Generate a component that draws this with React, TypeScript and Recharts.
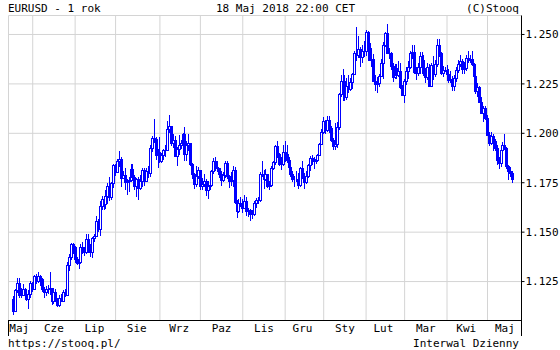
import React from "react";
import { ComposedChart, Bar, XAxis, YAxis, CartesianGrid } from "recharts";

const BLUE = "#0000ff";
const FONT = "'DejaVu Sans Mono', monospace";

// EURUSD daily candles 18.05.2017 - 18.05.2018, in pips (1/10000)
// [open, high, low, close]
const ohlc: number[][] = [
	// Maj 2017
	[11160, 11176, 11080, 11102], [11100, 11213, 11096, 11207], [11207, 11268, 11192, 11242],
	[11242, 11268, 11165, 11182], [11182, 11215, 11166, 11184], [11184, 11238, 11176, 11211],
	[11211, 11217, 11161, 11182], [11182, 11190, 11152, 11163], [11163, 11205, 11110, 11185],
	[11185, 11251, 11168, 11243],
	// Cze
	[11243, 11250, 11196, 11214], [11214, 11285, 11208, 11280], [11280, 11287, 11240, 11255],
	[11255, 11296, 11245, 11277], [11277, 11283, 11230, 11262], [11262, 11270, 11195, 11212],
	[11212, 11225, 11167, 11196], [11196, 11229, 11176, 11211], [11211, 11233, 11185, 11213],
	[11213, 11296, 11180, 11216], [11216, 11219, 11132, 11150], [11150, 11206, 11137, 11197],
	[11197, 11210, 11146, 11151], [11151, 11165, 11119, 11133], [11133, 11180, 11120, 11165],
	[11165, 11185, 11147, 11151], [11151, 11208, 11145, 11195], [11195, 11212, 11172, 11183],
	[11183, 11349, 11177, 11336], [11336, 11390, 11304, 11375], [11375, 11445, 11360, 11441],
	[11441, 11446, 11391, 11426],
	// Lip
	[11426, 11432, 11342, 11362], [11362, 11372, 11336, 11346], [11346, 11373, 11313, 11350],
	[11350, 11441, 11346, 11423], [11423, 11449, 11390, 11400], [11400, 11423, 11380, 11400],
	[11400, 11490, 11390, 11464], [11464, 11489, 11394, 11413], [11413, 11440, 11374, 11400],
	[11400, 11477, 11370, 11470], [11470, 11490, 11450, 11478], [11478, 11583, 11473, 11557],
	[11557, 11566, 11503, 11517], [11517, 11658, 11480, 11633], [11633, 11683, 11614, 11666],
	[11666, 11670, 11612, 11641], [11641, 11712, 11618, 11684], [11684, 11747, 11644, 11735],
	[11735, 11777, 11658, 11678], [11678, 11756, 11663, 11750], [11750, 11846, 11725, 11842],
	// Sie
	[11842, 11846, 11784, 11803], [11803, 11868, 11800, 11859], [11859, 11910, 11829, 11868],
	[11868, 11882, 11729, 11774], [11774, 11808, 11769, 11791], [11791, 11826, 11713, 11753],
	[11753, 11771, 11688, 11757], [11757, 11779, 11703, 11763], [11763, 11847, 11755, 11821],
	[11821, 11843, 11775, 11781], [11781, 11790, 11715, 11733], [11733, 11776, 11680, 11767],
	[11767, 11781, 11662, 11725], [11725, 11788, 11715, 11760], [11760, 11823, 11727, 11815],
	[11815, 11825, 11735, 11760], [11760, 11824, 11754, 11809], [11809, 11836, 11774, 11799],
	[11799, 11941, 11781, 11924], [11924, 11984, 11904, 11977], [11977, 12070, 11950, 11973],
	[11973, 11981, 11867, 11890], [11890, 11921, 11823, 11906],
	// Wrz
	[11906, 11980, 11850, 11859], [11859, 11898, 11850, 11889], [11889, 11921, 11865, 11914],
	[11914, 11943, 11878, 11918], [11918, 12060, 11915, 12024], [12024, 12092, 12000, 12035],
	[12035, 12037, 11937, 11951], [11951, 11995, 11925, 11966], [11966, 11985, 11880, 11886],
	[11886, 11930, 11837, 11922], [11922, 11990, 11891, 11941], [11941, 11968, 11919, 11952],
	[11952, 12002, 11932, 11997], [11997, 12034, 11862, 11895], [11895, 11960, 11861, 11940],
	[11940, 11997, 11910, 11949], [11949, 11950, 11837, 11846], [11846, 11849, 11770, 11792],
	[11792, 11797, 11718, 11746], [11746, 11833, 11728, 11785], [11785, 11832, 11771, 11814],
	// Paz
	[11814, 11815, 11715, 11733], [11733, 11776, 11712, 11742], [11742, 11795, 11730, 11757],
	[11757, 11771, 11683, 11713], [11713, 11759, 11669, 11735], [11735, 11761, 11711, 11737],
	[11737, 11816, 11732, 11807], [11807, 11874, 11795, 11861], [11861, 11880, 11808, 11829],
	[11829, 11860, 11806, 11822], [11822, 11827, 11773, 11794], [11794, 11808, 11731, 11765],
	[11765, 11803, 11755, 11789], [11789, 11862, 11775, 11852], [11852, 11860, 11771, 11785],
	[11785, 11790, 11723, 11759], [11759, 11802, 11734, 11762], [11762, 11836, 11729, 11814],
	[11814, 11832, 11640, 11650], [11650, 11665, 11573, 11607], [11607, 11667, 11597, 11649],
	[11649, 11680, 11629, 11645],
	// Lis
	[11645, 11669, 11598, 11620], [11620, 11688, 11615, 11657], [11657, 11677, 11583, 11608],
	[11608, 11620, 11577, 11612], [11612, 11616, 11554, 11594], [11594, 11610, 11565, 11590],
	[11590, 11658, 11583, 11645], [11645, 11672, 11620, 11664], [11664, 11680, 11640, 11664],
	[11664, 11802, 11654, 11794], [11794, 11861, 11780, 11794], [11794, 11814, 11719, 11770],
	[11770, 11820, 11760, 11793], [11793, 11795, 11722, 11732], [11732, 11760, 11715, 11736],
	[11736, 11834, 11726, 11822], [11822, 11860, 11815, 11853], [11853, 11940, 11841, 11935],
	[11935, 11961, 11876, 11897], [11897, 11902, 11837, 11844], [11844, 11881, 11815, 11846],
	[11846, 11940, 11837, 11904],
	// Gru
	[11904, 11961, 11855, 11895], [11895, 11939, 11850, 11865], [11865, 11881, 11808, 11829],
	[11829, 11855, 11778, 11795], [11795, 11809, 11756, 11771], [11771, 11783, 11729, 11769],
	[11769, 11808, 11752, 11771], [11771, 11800, 11718, 11741], [11741, 11830, 11727, 11826],
	[11826, 11862, 11770, 11776], [11776, 11799, 11720, 11752], [11752, 11810, 11745, 11783],
	[11783, 11845, 11775, 11840], [11840, 11885, 11810, 11874], [11874, 11890, 11840, 11871],
	[11871, 11880, 11819, 11858], [11858, 11879, 11845, 11863], [11863, 11895, 11855, 11890],
	[11890, 11950, 11885, 11944], [11944, 12023, 11939, 12005],
	// Sty 2018
	[12005, 12081, 11996, 12060], [12060, 12065, 11998, 12015], [12015, 12090, 12006, 12068],
	[12068, 12089, 12002, 12029], [12029, 12035, 11954, 11966], [11966, 11978, 11915, 11937],
	[11937, 12053, 11916, 11947], [11947, 12059, 11928, 12033], [12033, 12204, 12016, 12198],
	[12198, 12296, 12186, 12263], [12263, 12323, 12165, 12263], [12263, 12293, 12164, 12183],
	[12183, 12281, 12167, 12238], [12238, 12296, 12205, 12222], [12222, 12282, 12214, 12262],
	[12262, 12307, 12225, 12300], [12300, 12415, 12294, 12408], [12408, 12537, 12368, 12397],
	[12397, 12493, 12382, 12427], [12427, 12436, 12337, 12384], [12384, 12447, 12356, 12414],
	[12414, 12466, 12388, 12414],
	// Lut
	[12414, 12523, 12393, 12512], [12512, 12520, 12436, 12458], [12458, 12475, 12366, 12369],
	[12369, 12434, 12335, 12375], [12375, 12403, 12258, 12264], [12264, 12293, 12214, 12248],
	[12248, 12287, 12206, 12252], [12252, 12301, 12235, 12292], [12292, 12375, 12286, 12354],
	[12354, 12460, 12273, 12449], [12449, 12510, 12437, 12505], [12505, 12555, 12400, 12406],
	[12406, 12430, 12376, 12408], [12408, 12412, 12320, 12338], [12338, 12358, 12260, 12284],
	[12284, 12352, 12277, 12330], [12330, 12353, 12277, 12295], [12295, 12365, 12286, 12317],
	[12317, 12354, 12226, 12232], [12232, 12244, 12188, 12193],
	// Mar
	[12193, 12274, 12154, 12267], [12267, 12335, 12246, 12317], [12317, 12365, 12273, 12336],
	[12336, 12414, 12323, 12406], [12406, 12446, 12378, 12409], [12409, 12446, 12300, 12312],
	[12312, 12336, 12272, 12307], [12307, 12355, 12290, 12336], [12336, 12413, 12302, 12390],
	[12390, 12413, 12357, 12369], [12369, 12394, 12292, 12306], [12306, 12330, 12257, 12287],
	[12287, 12357, 12268, 12335], [12335, 12350, 12239, 12240], [12240, 12356, 12238, 12345],
	[12345, 12389, 12270, 12302], [12302, 12372, 12284, 12352], [12352, 12476, 12337, 12448],
	[12448, 12476, 12388, 12408], [12408, 12413, 12297, 12306], [12306, 12339, 12285, 12322],
	[12322, 12336, 12308, 12322],
	// Kwi
	[12322, 12346, 12284, 12302], [12302, 12324, 12255, 12270], [12270, 12315, 12253, 12276],
	[12276, 12289, 12215, 12239], [12239, 12295, 12216, 12281], [12281, 12335, 12258, 12321],
	[12321, 12369, 12304, 12353], [12353, 12396, 12337, 12367], [12367, 12374, 12299, 12327],
	[12327, 12359, 12301, 12331], [12331, 12396, 12314, 12382], [12382, 12414, 12357, 12372],
	[12372, 12396, 12354, 12375], [12375, 12414, 12339, 12349], [12349, 12355, 12277, 12289],
	[12289, 12291, 12197, 12213], [12213, 12255, 12184, 12232], [12232, 12240, 12155, 12160],
	[12160, 12185, 12096, 12104], [12104, 12140, 12055, 12130], [12130, 12136, 12066, 12078],
	// Maj 2018
	[12078, 12092, 11985, 11992], [11992, 12008, 11937, 11950], [11950, 12009, 11940, 11988],
	[11988, 11994, 11910, 11960], [11960, 11973, 11912, 11924], [11924, 11939, 11838, 11864],
	[11864, 11880, 11820, 11850], [11850, 11920, 11832, 11916], [11916, 11955, 11898, 11942],
	[11942, 11997, 11915, 11925], [11925, 11930, 11817, 11836], [11836, 11838, 11763, 11810],
	[11810, 11830, 11780, 11797], [11797, 11811, 11749, 11767],
];

const holidays = ["2017-12-25", "2018-01-01"];

// first trading day of each month (separators)
const monthStarts = [
	"2017-06-01", "2017-07-03", "2017-08-01", "2017-09-01", "2017-10-02", "2017-11-01",
	"2017-12-01", "2018-01-02", "2018-02-01", "2018-03-01", "2018-04-02", "2018-05-01",
];

// days where the month names sit (middle of each month cell)
const labelDates = [
	"2017-05-23", "2017-06-16", "2017-07-17", "2017-08-16", "2017-09-15", "2017-10-17",
	"2017-11-16", "2017-12-14", "2018-01-17", "2018-02-14", "2018-03-16", "2018-04-16",
	"2018-05-14",
];

const monthNames = ["Sty", "Lut", "Mar", "Kwi", "Maj", "Cze", "Lip", "Sie", "Wrz", "Paz", "Lis", "Gru"];

const priceTicks = [1.125, 1.15, 1.175, 1.2, 1.225, 1.25];

const tradingDays: string[] = [];
for (
	let d = new Date(Date.UTC(2017, 4, 18));
	d <= new Date(Date.UTC(2018, 4, 18));
	d.setUTCDate(d.getUTCDate() + 1)
) {
	const wd = d.getUTCDay();
	const s = d.toISOString().slice(0, 10);
	if (wd === 0 || wd === 6 || holidays.includes(s)) continue;
	tradingDays.push(s);
}

const candles = tradingDays.slice(0, ohlc.length).map((date, i) => {
	const [o, h, l, c] = ohlc[i].map((v) => v / 10000);
	const high = Math.max(h, o, c);
	const low = Math.min(l, o, c);
	return { date, open: o, high, low, close: c, range: [low, high] };
});

const Candle = (props: any) => {
	const { x, y, width, height, payload } = props;
	if (!payload || x == null) return null;
	const { open, high, low, close } = payload;
	const top = Math.min(y, y + height);
	const span = Math.abs(height);
	const k = high > low ? span / (high - low) : 0;
	const py = (v: number) => top + (high - v) * k;
	const cx = Math.floor(x + width / 2);
	const up = close >= open;
	const yH = Math.round(py(high));
	const yL = Math.round(py(low));
	const b1 = Math.round(py(Math.max(open, close)));
	const b2 = Math.round(py(Math.min(open, close)));
	return (
		<g>
			<line x1={cx + 0.5} x2={cx + 0.5} y1={yH} y2={yL} stroke={BLUE} strokeWidth={1} />
			<rect
				x={cx - 0.5}
				y={b1 + 0.5}
				width={2}
				height={Math.max(b2 - b1, 0)}
				fill={up ? "#ffffff" : BLUE}
				stroke={BLUE}
				strokeWidth={1}
			/>
		</g>
	);
};

const monthName = (d: string) => monthNames[parseInt(d.slice(5, 7), 10) - 1];
const blank = () => "";
const pad = { left: 4, right: 8 };
const black = { stroke: "#000000" };

export default function App() {
	return (
		<div style={{ position: "absolute", left: 0, top: 0, width: 560, height: 350, background: "#fff" }}>
			<ComposedChart
				width={560}
				height={350}
				data={candles}
				margin={{ top: 15.5, right: 0, bottom: 14.5, left: 8.5 }}
				barCategoryGap={0}
			>
				<CartesianGrid xAxisId="b" yAxisId="p" stroke="#d4d4d4" strokeWidth={1} />
				<XAxis
					xAxisId="a"
					dataKey="date"
					orientation="bottom"
					height={15}
					ticks={labelDates}
					interval={0}
					tickLine={false}
					tickSize={4}
					tickMargin={0}
					axisLine={black}
					tickFormatter={monthName}
					tick={{ fill: "#000", fontSize: 11, fontFamily: FONT }}
					padding={pad}
				/>
				<XAxis
					xAxisId="b"
					dataKey="date"
					orientation="bottom"
					height={0}
					mirror
					ticks={monthStarts}
					interval={0}
					tickSize={15}
					tickFormatter={blank}
					tickLine={black}
					axisLine={black}
					padding={pad}
				/>
				<XAxis
					xAxisId="t"
					dataKey="date"
					orientation="top"
					height={0}
					mirror
					ticks={monthStarts}
					interval={0}
					tickSize={4}
					tickFormatter={blank}
					tickLine={black}
					axisLine={black}
					padding={pad}
				/>
				<YAxis
					yAxisId="p"
					orientation="right"
					width={38.5}
					type="number"
					domain={[1.1053, 1.2596]}
					allowDataOverflow
					ticks={priceTicks}
					interval={0}
					tickSize={3}
					tickMargin={1}
					tickLine={black}
					axisLine={black}
					tickFormatter={(v: number) => v.toFixed(3)}
					tick={{ fill: "#000", fontSize: 11, fontFamily: FONT, textAnchor: "start" }}
				/>
				<YAxis
					yAxisId="l"
					orientation="left"
					width={0}
					mirror
					type="number"
					domain={[1.1053, 1.2596]}
					allowDataOverflow
					ticks={priceTicks}
					interval={0}
					tickSize={4}
					tickFormatter={blank}
					tickLine={black}
					axisLine={black}
				/>
				<Bar
					xAxisId="a"
					yAxisId="p"
					dataKey="range"
					shape={<Candle />}
					isAnimationActive={false}
				/>
			</ComposedChart>
			<svg
				width={560}
				height={350}
				style={{ position: "absolute", left: 0, top: 0, pointerEvents: "none" }}
				fontFamily={FONT}
				fontSize={11}
				fill="#000"
			>
				<line x1={8.5} x2={8.5} y1={320} y2={336} stroke="#000" />
				<line x1={521.5} x2={521.5} y1={320} y2={336} stroke="#000" />
				<text x={8} y={12}>EURUSD - 1 rok</text>
				<text x={216} y={12}>18 Maj 2018 22:00 CET</text>
				<text x={519} y={12} textAnchor="end">(C)Stooq</text>
				<text x={8} y={347}>https://stooq.pl/</text>
				<text x={519} y={347} textAnchor="end">Interwal Dzienny</text>
			</svg>
		</div>
	);
}
